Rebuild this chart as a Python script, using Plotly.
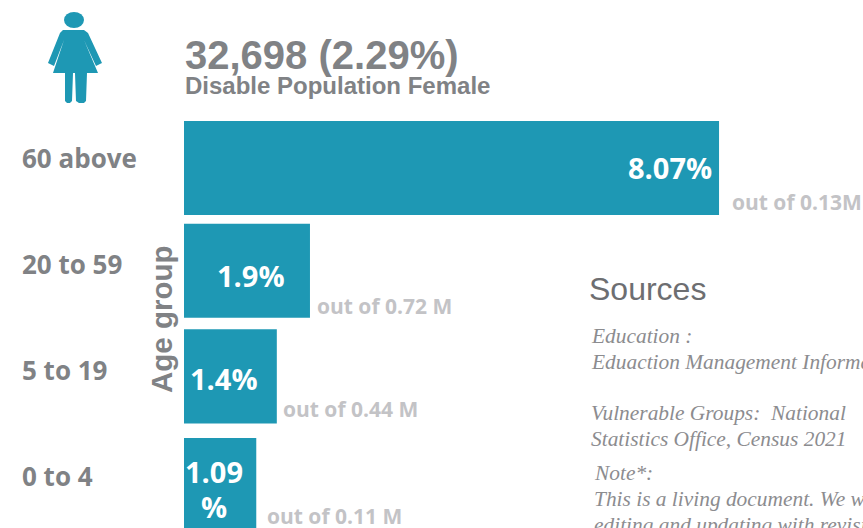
import plotly.graph_objects as go

W, H = 863, 528
age_groups = ["60 above", "20 to 59", "5 to 19", "0 to 4"]
percent_values = [8.07, 1.9, 1.4, 1.09]
bar_labels = ["8.07%", "1.9%", "1.4%", "1.09<br>%"]
out_of_labels = ["out of 0.13M", "out of 0.72 M", "out of 0.44 M", "out of 0.11 M"]
headline = "32,698 (2.29%)"
subhead = "Disable Population Female"
axis_title = "Age group"

TEAL = "#1e98b4"
GREY = "#808285"
LIGHT = "#c3c3c6"
NOTE = "#8c8c8f"
SEGOE = "Open Sans, Noto Sans, sans-serif"
ARIAL = "Liberation Sans, Arial, sans-serif"
SERIF = "Liberation Serif, serif"

def xp(px):
    return px / W

def yp(py):
    return 1 - py / H

fig = go.Figure(go.Bar(
    y=age_groups, x=percent_values, orientation="h",
    marker=dict(color=TEAL, line=dict(width=0)), width=0.89,
    offset=[-0.445, -0.473, -0.473, -0.445],
    hoverinfo="skip", showlegend=False,
))

annotations = []

def text(px, py, s, size, color, family, anchor="left", **kw):
    annotations.append(dict(
        xref="paper", yref="paper", x=xp(px), y=yp(py), text=s, showarrow=False,
        xanchor=anchor, yanchor="middle", xshift=0, yshift=0, align="left",
        font=dict(size=size, color=color, family=family), **kw))

# Headline block
text(182.5, 55, f"<b>{headline}</b>", 40, GREY, ARIAL)
text(182.5, 86, f"<b>{subhead}</b>", 24, GREY, ARIAL)

# Category labels
for name, py in zip(age_groups, [158, 264, 370, 476]):
    text(20, py, f"<b>{name}</b>", 26, GREY, SEGOE)

# Axis title
text(161, 319, f"<b>{axis_title}</b>", 29.5, GREY, ARIAL, anchor="center", textangle=-90)

# Labels inside the bars (a wrapped label is stacked one line at a time)
for cat, val, lab, dx, dy in zip(age_groups, percent_values, bar_labels, [-49, -59, -53, -42], [1, -2, 1, 13]):
    for i, line in enumerate(lab.split("<br>")):
        annotations.append(dict(
            xref="x", yref="y", x=val, y=cat, text=f"<b>{line}</b>", showarrow=False,
            xanchor="center", yanchor="middle", xshift=dx, yshift=dy - 35 * i,
            font=dict(size=29, color="white", family=SEGOE)))

# "out of" labels next to the bars
for cat, val, lab, dx, dy in zip(age_groups, percent_values, out_of_labels, [11, 5, 4, 9], [-34, -32, -30, -31]):
    annotations.append(dict(
        xref="x", yref="y", x=val, y=cat, text=f"<b>{lab}</b>", showarrow=False,
        xanchor="left", yanchor="middle", xshift=dx, yshift=dy,
        font=dict(size=21, color=LIGHT, family=SEGOE)))

# Sources panel
text(587, 289, "Sources", 32, "#6d6e71", ARIAL)
text(589, 336, "<i>Education :</i>", 21.4, NOTE, SERIF)
text(589, 362, "<i>Eduaction Management Information System</i>", 21.4, NOTE, SERIF)
text(589, 413, "<i>Vulnerable Groups:  National</i>", 21.4, NOTE, SERIF)
text(589, 439, "<i>Statistics Office, Census 2021</i>", 21.4, NOTE, SERIF)
text(592, 473, "<i>Note*:</i>", 21.4, NOTE, SERIF)
text(592, 499, "<i>This is a living document. We will keep</i>", 21.4, NOTE, SERIF)
text(592, 525, "<i>editing and updating with revisions</i>", 21.4, NOTE, SERIF)

# Female pictogram
def pt(px, py):
    return f"{xp(px):.5f} {yp(py):.5f}"

body = ("M " + " L ".join(pt(*p) for p in [
    (63, 30), (84, 30), (88, 33), (102, 63), (96, 66), (84, 40), (98, 73), (87, 73),
    (86, 101), (84, 103), (79, 103), (76, 101), (75, 73), (73, 73), (72, 101),
    (70, 103), (67, 103), (65, 101), (65, 73), (53, 73), (64, 40), (54, 66), (48, 63),
    (60, 33)]) + " Z")
shapes = [
    dict(type="circle", xref="paper", yref="paper", x0=xp(64), x1=xp(84),
         y0=yp(28), y1=yp(12), fillcolor=TEAL, line=dict(width=0)),
    dict(type="path", xref="paper", yref="paper", path=body, fillcolor=TEAL, line=dict(width=0)),
]

fig.update_layout(
    width=W, height=H, autosize=False,
    margin=dict(l=0, r=0, t=0, b=0, pad=0),
    paper_bgcolor="white", plot_bgcolor="white",
    xaxis=dict(domain=[184 / W, 1], range=[0, 679 / 66.3], visible=False, fixedrange=True),
    yaxis=dict(domain=[0, 1], type="category", categoryorder="array", categoryarray=age_groups,
               range=[3.407, -1.59], visible=False, fixedrange=True),
    annotations=annotations, shapes=shapes,
)
fig.write_html("out.html", config=dict(displayModeBar=False),
               post_script="document.body.style.margin='0';document.body.style.overflow='hidden';")
